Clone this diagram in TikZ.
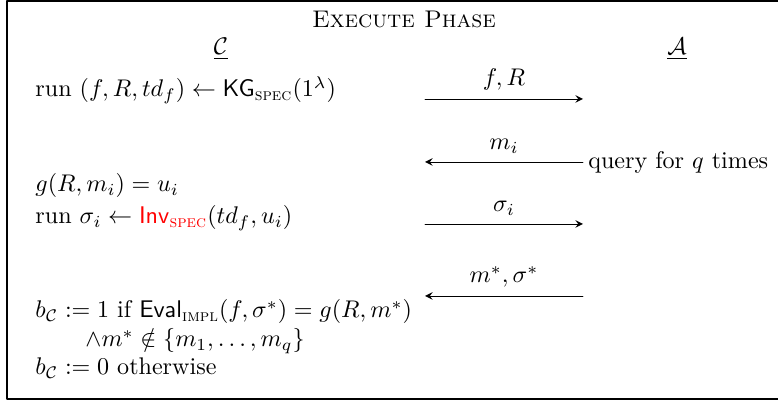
\documentclass[tikz,border=0pt]{standalone}
\usepackage{amsfonts,amsmath,amssymb}
\usepackage{xcolor}
\usetikzlibrary{arrows.meta,positioning}
\tikzset{
  every picture/.style={line join=round, line cap=round},
  linetext/.style={anchor=base west, inner sep=0pt},
  headtext/.style={anchor=base, inner sep=0pt},
  msg/.style={->, >=stealth, thin},
}
\newcommand{\algo}[2]{\mathsf{#1}_{\textsc{#2}}}

\begin{document}
\begin{tikzpicture}[x=0.415pt,y=-0.415pt]
\useasboundingbox (0,0) rectangle (778,405);
\draw[line width=0.5pt] (7,1) rectangle (820,399);
% heading and parties
\node[headtext] (title) at (404,28) {\textsc{Execute Phase}};
\node[headtext] (chal) at (221,55) {$\underline{\mathcal{C}}$};
\node[headtext] (adv) at (677,55) {$\underline{\mathcal{A}}$};
% challenger side
\node[linetext] (kg) at (35,97) {run $(f,R,td_f)\leftarrow\algo{KG}{spec}(1^\lambda)$};
\node[linetext] (hash) at (35,192) {$g(R,m_i)=u_i$};
\node[linetext] (inv) at (35,224) {run $\sigma_i\leftarrow\textcolor{red}{\algo{Inv}{spec}}(td_f,u_i)$};
\node[linetext] (win) at (35,318) {$b_{\mathcal{C}}:=1$ if $\algo{Eval}{impl}(f,\sigma^*)=g(R,m^*)$};
\node[linetext] (fresh) at (85,347) {$\wedge m^*\notin\{m_1,\ldots,m_q\}$};
\node[linetext] (lose) at (35,375) {$b_{\mathcal{C}}:=0$ otherwise};
% messages
\coordinate (c1) at (425,99);  \coordinate (a1) at (583,99);
\coordinate (c2) at (425,162); \coordinate (a2) at (583,162);
\coordinate (c3) at (425,224); \coordinate (a3) at (583,224);
\coordinate (c4) at (425,296); \coordinate (a4) at (583,296);
\draw[msg] (c1) -- node[above] (pk) {$f,R$} (a1);
\draw[msg] (a2) -- node[above] (qmsg) {$m_i$} (c2);
\draw[msg] (c3) -- node[above] (sig) {$\sigma_i$} (a3);
\draw[msg] (a4) -- node[above] (forge) {$m^*,\sigma^*$} (c4);
\node[anchor=west, inner sep=2pt] (times) at (a2) {query for $q$ times};
\end{tikzpicture}
\end{document}
